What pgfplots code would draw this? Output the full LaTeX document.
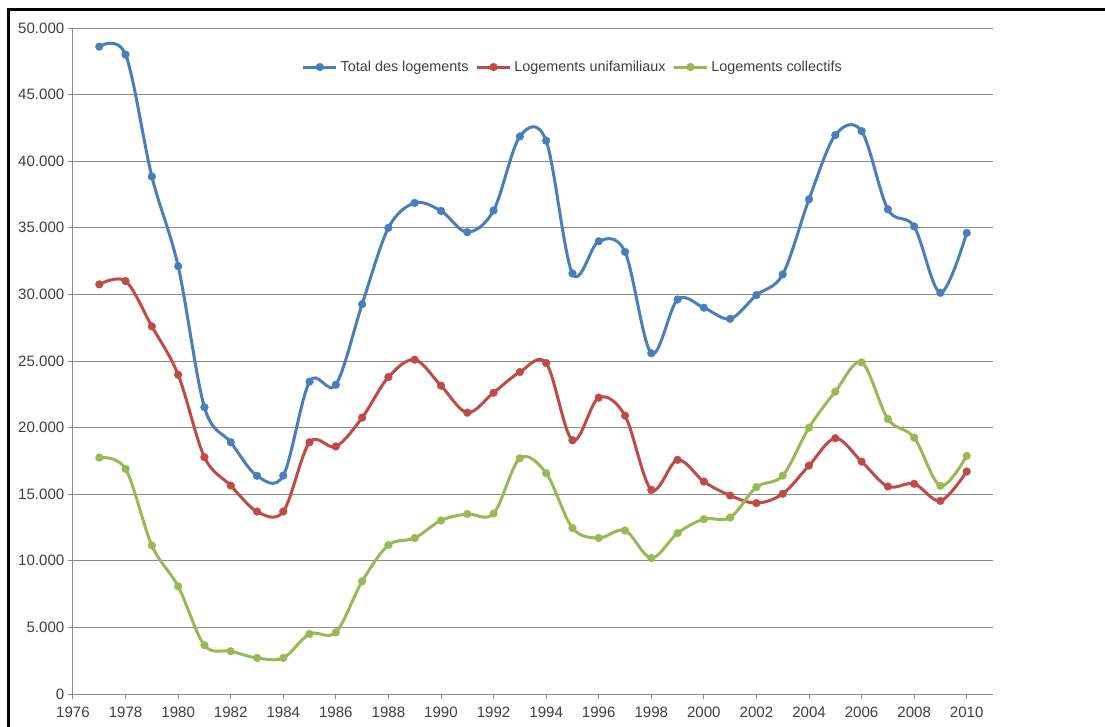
\documentclass[border=0pt]{standalone}
\usepackage{pgfplots}
\pgfplotsset{compat=1.18}
\usepackage{pgfplotstable}
\usepackage{fontspec}
\setmainfont{Liberation Sans}
\definecolor{cblue}{HTML}{4A7EBB}
\definecolor{cred}{HTML}{BE4B48}
\definecolor{cgreen}{HTML}{98B954}
\definecolor{cgrid}{HTML}{8C8C8C}
\definecolor{ctext}{HTML}{404040}
\pgfplotstableread{
year total uni coll
1977 48600 30750 17750
1978 48000 31000 16900
1979 38850 27600 11150
1980 32120 23970 8080
1981 21530 17780 3660
1982 18900 15650 3210
1983 16380 13700 2710
1984 16400 13700 2710
1985 23450 18900 4510
1986 23220 18580 4630
1987 29270 20750 8460
1988 35000 23800 11180
1989 36870 25100 11710
1990 36270 23150 13030
1991 34670 21120 13510
1992 36300 22620 13550
1993 41860 24170 17700
1994 41540 24850 16580
1995 31570 19050 12460
1996 33990 22250 11710
1997 33190 20900 12280
1998 25580 15330 10210
1999 29620 17580 12080
2000 29000 15950 13130
2001 28170 14900 13250
2002 29950 14330 15530
2003 31500 15030 16400
2004 37140 17150 20000
2005 41960 19200 22700
2006 42260 17450 24900
2007 36390 15580 20650
2008 35100 15780 19250
2009 30120 14500 15630
2010 34620 16700 17880
}\datatable
\begin{document}
\begin{tikzpicture}
\begin{axis}[
  at={(0,0)}, anchor=south west,
  scale only axis,
  width=690pt, height=499.5pt,
  xmin=1976, xmax=2011,
  ymin=0, ymax=50000,
  axis x line=bottom, axis y line=left,
  axis line style={cgrid, line width=0.75pt, -},
  xtick={1976,1978,...,2010},
  ytick={0,5000,...,50000},
  tick align=outside,
  major tick length=4pt,
  tick style={cgrid, line width=0.75pt},
  ymajorgrids,
  grid style={cgrid, line width=0.75pt},
  scaled y ticks=false,
  /pgf/number format/assume math mode=true,
  yticklabel style={font=\fontsize{11.3}{13}\selectfont, text=ctext, /pgf/number format/1000 sep={.}, xshift=1pt},
  xticklabel style={font=\fontsize{11.3}{13}\selectfont, text=ctext, /pgf/number format/1000 sep={}},
  xticklabel shift=2pt,
  legend style={draw=none, fill=none, at={(0.5435,0.9414)}, anchor=center,
    font=\fontsize{10.8}{12}\selectfont, text=ctext, legend columns=3,
    /tikz/every even column/.append style={column sep=3pt}},
  legend image code/.code={\draw[#1, mark repeat=2, mark phase=2] plot coordinates {(0pt,0pt) (12.5pt,0pt) (25pt,0pt)};},
  every axis plot/.append style={line width=2.25pt, smooth, tension=0.55},
]
\addplot[cblue, mark=*, mark size=2.9pt, mark options={solid, fill=cblue, draw=cblue, line width=0.3pt}] table[x=year, y=total] {\datatable};
\addlegendentry{Total des logements}
\addplot[cred, mark=*, mark size=2.9pt, mark options={solid, fill=cred, draw=cred, line width=0.3pt}] table[x=year, y=uni] {\datatable};
\addlegendentry{Logements unifamiliaux}
\addplot[cgreen, mark=*, mark size=2.9pt, mark options={solid, fill=cgreen, draw=cgreen, line width=0.3pt}] table[x=year, y=coll] {\datatable};
\addlegendentry{Logements collectifs}
\end{axis}
\draw[black, line width=2.25pt] (-48pt,-30pt) -- (-48pt,513.4pt) -- (780pt,513.4pt);
\pgfresetboundingbox
\path (-54.75pt,-24pt) rectangle (774pt,520.5pt);
\end{tikzpicture}
\end{document}
